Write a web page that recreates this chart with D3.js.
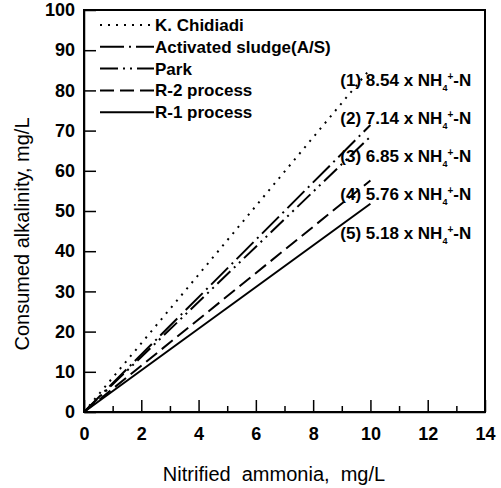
<!DOCTYPE html>
<html><head><meta charset="utf-8">
<script src="https://cdn.jsdelivr.net/npm/d3@7"></script>
<style>body{margin:0;background:#fff}svg{display:block}text{font-family:"Liberation Sans",Arial,sans-serif}</style>
</head><body><div id="chart"></div>
<script>
const seriesNames = ["K. Chidiadi", "Activated sludge(A/S)", "Park", "R-2 process", "R-1 process"];
const slopes = [8.54, 7.14, 6.85, 5.76, 5.18];
const labelNums = ["(1)", "(2)", "(3)", "(4)", "(5)"];
const lineEndX = [10, 10, 10, 10, 10];
const xTicks = [0, 2, 4, 6, 8, 10, 12, 14];
const xMinorTicks = [1, 3, 5, 7, 9, 11, 13];
const yTicks = [0, 10, 20, 30, 40, 50, 60, 70, 80, 90, 100];

const dashes = ["2,6", "24,5,2,5", "18,5,2,5,2,5", "14,6", null];

const W = 501, H = 488;
const m = {left: 84, right: 16, top: 10, bottom: 76};
const svg = d3.select("#chart").append("svg").attr("width", W).attr("height", H);
const x = d3.scaleLinear().domain([0, 14]).range([m.left, W - m.right]);
const y = d3.scaleLinear().domain([0, 100]).range([H - m.bottom, m.top]);

// Lines
const lineGen = d3.line().x(d => x(d[0])).y(d => y(d[1]));
slopes.forEach((s, i) => {
  svg.append("path")
    .attr("d", lineGen([[0, 0], [lineEndX[i], s * lineEndX[i]]]))
    .attr("fill", "none").attr("stroke", "#000").attr("stroke-width", 2)
    .attr("stroke-dasharray", dashes[i]);
});

// Axes (ticks inward)
const xAxis = svg.append("g").attr("transform", `translate(0,${y(0)})`)
  .call(d3.axisBottom(x).tickValues(xTicks).tickSizeInner(-12).tickSizeOuter(0).tickPadding(15).tickFormat(d3.format("d")));
svg.append("g").attr("transform", `translate(0,${y(0)})`)
  .call(d3.axisBottom(x).tickValues(xMinorTicks).tickSizeInner(-6).tickSizeOuter(0).tickFormat(""))
  .call(g => g.select(".domain").remove())
  .selectAll("line").attr("stroke", "#000").attr("stroke-width", 1.5);
const yAxis = svg.append("g").attr("transform", `translate(${x(0)},0)`)
  .call(d3.axisLeft(y).tickValues(yTicks).tickSizeInner(-12).tickSizeOuter(0).tickPadding(9).tickFormat(d3.format("d")));
[xAxis, yAxis].forEach(g => {
  g.selectAll("text").attr("font-size", 18).attr("font-weight", "bold").attr("fill", "#000")
    .style("font-family", '"Liberation Sans",Arial,sans-serif');
  g.selectAll("line,path").attr("stroke", "#000").attr("stroke-width", 1.5);
});
xAxis.selectAll(".tick text").attr("dy", "0.71em");

// Frame
svg.append("rect").attr("x", x(0)).attr("y", y(100))
  .attr("width", x(14) - x(0)).attr("height", y(0) - y(100))
  .attr("fill", "none").attr("stroke", "#000").attr("stroke-width", 2);

// Axis titles
svg.append("text").attr("x", 274).attr("y", 481)
  .attr("text-anchor", "middle").attr("font-size", 20).attr("xml:space", "preserve")
  .style("white-space", "pre").text("Nitrified  ammonia,  mg/L");
svg.append("text").attr("transform", `translate(29,234) rotate(-90)`)
  .attr("text-anchor", "middle").attr("font-size", 20).text("Consumed alkalinity, mg/L");

// Legend
const lg = svg.append("g");
seriesNames.forEach((n, i) => {
  const yy = 25 + i * 21.8;
  lg.append("line").attr("x1", 100).attr("x2", 154).attr("y1", yy).attr("y2", yy)
    .attr("stroke", "#000").attr("stroke-width", 2).attr("stroke-dasharray", dashes[i]);
  lg.append("text").attr("x", 155).attr("y", yy).attr("dy", "0.35em")
    .attr("font-size", 17).attr("font-weight", "bold").text(n);
});

// Equation labels
slopes.forEach((s, i) => {
  const t = svg.append("text").attr("x", x(8.95)).attr("y", y(82.6 - 9.5 * i)).attr("dy", "0.35em")
    .attr("font-size", 17).attr("font-weight", "bold");
  t.append("tspan").text(`${labelNums[i]} ${s.toFixed(2)} x NH`);
  t.append("tspan").attr("font-size", 9).attr("dy", 5).text("4");
  t.append("tspan").attr("font-size", 10).attr("dy", -11).text("+");
  t.append("tspan").attr("dy", 6).text("-N");
});
</script></body></html>
